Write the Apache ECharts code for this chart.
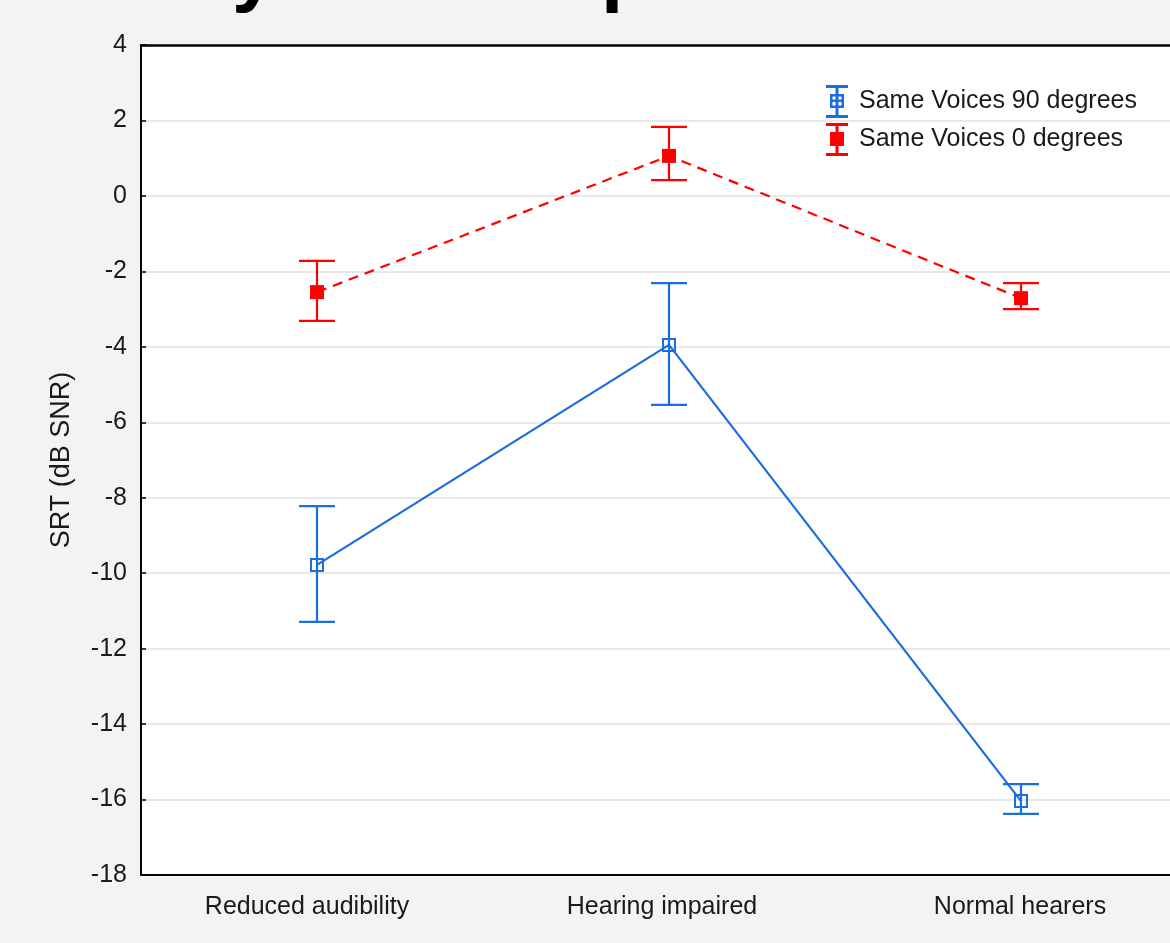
<!DOCTYPE html>
<html>
<head>
<meta charset="utf-8">
<style>
  html, body { margin: 0; padding: 0; background: #f2f3f5; overflow: hidden; }
  #chart { width: 1197px; height: 943px; }
</style>
<script src="https://cdn.jsdelivr.net/npm/echarts@6/dist/echarts.min.js"></script>
</head>
<body>
<div id="chart"></div>
<script>
// ---- data ----
var categories = ['Reduced audibility', 'Hearing impaired', 'Normal hearers'];
var seriesNames = ['Same Voices 90 degrees', 'Same Voices 0 degrees'];
var sv90Mean = [-9.78, -3.95, -16.04];
var sv90Low  = [-11.29, -5.54, -16.38];
var sv90High = [-8.22, -2.31, -15.59];
var sv0Mean  = [-2.55, 1.06, -2.71];
var sv0Low   = [-3.31, 0.42, -3.00];
var sv0High  = [-1.72, 1.83, -2.31];
var yMin = -18, yMax = 4, yStep = 2;

var BLUE = '#1a6ee0';
var RED = '#ff0000';
var FONT = '"Liberation Sans", Arial, sans-serif';

function errData(low, high) {
  return categories.map(function (c, i) { return [i, low[i], high[i]]; });
}
function errRender(color) {
  return function (params, api) {
    var x = api.value(0);
    var lo = api.coord([x, api.value(1)]);
    var hi = api.coord([x, api.value(2)]);
    var half = 18;
    var st = { stroke: color, lineWidth: 2.2 };
    return {
      type: 'group',
      children: [
        { type: 'line', shape: { x1: lo[0], y1: lo[1], x2: hi[0], y2: hi[1] }, style: st },
        { type: 'line', shape: { x1: lo[0] - half, y1: lo[1], x2: lo[0] + half, y2: lo[1] }, style: st },
        { type: 'line', shape: { x1: hi[0] - half, y1: hi[1], x2: hi[0] + half, y2: hi[1] }, style: st }
      ]
    };
  };
}

var ringSquare = 'path://M0,0H14V14H0Z M2,2V12H12V2Z';
var iconBlue = 'path://M0,0H22V3H0Z M9.5,0H12.5V33H9.5Z M0,30H22V33H0Z M4,9H18V23H4Z M6.5,11.5V20.5H15.5V11.5Z M4,14.5H18V17H4Z';
var iconRed = 'path://M0,0H22V3H0Z M9.5,0H12.5V33H9.5Z M0,30H22V33H0Z M4,9H18V23H4Z';

// label styles: small right padding nudges the first labels left as in the original
var labelRich = {
  l0: { fontSize: 25, color: '#1a1a1a', fontFamily: FONT, padding: [0, 20, 0, 0] },
  l1: { fontSize: 25, color: '#1a1a1a', fontFamily: FONT, padding: [0, 14, 0, 0] },
  l2: { fontSize: 25, color: '#1a1a1a', fontFamily: FONT, padding: [0, 2, 0, 0] }
};

var chart = echarts.init(document.getElementById('chart'), null, { renderer: 'canvas' });
chart.setOption({
  backgroundColor: '#f2f3f5',
  animation: false,
  textStyle: { fontFamily: FONT },
  graphic: [
    { type: 'text', left: 232, top: -66, style: { text: 'y', fontSize: 80, fontWeight: 'bold', fontFamily: FONT, fill: '#000' } },
    { type: 'text', left: 601, top: -66, style: { text: 'p', fontSize: 80, fontWeight: 'bold', fontFamily: FONT, fill: '#000' } }
  ],
  grid: {
    left: 141, top: 45, right: 0, height: 830,
    show: true, backgroundColor: '#ffffff', borderWidth: 0,
    containLabel: false
  },
  legend: {
    orient: 'vertical',
    left: 826, top: 85,
    padding: 0,
    itemWidth: 22, itemHeight: 33, itemGap: 5,
    selectedMode: false,
    textStyle: { fontSize: 25, color: '#1a1a1a', fontFamily: FONT, padding: [0, 0, 0, 6] },
    data: [
      { name: seriesNames[0], icon: iconBlue, itemStyle: { color: BLUE } },
      { name: seriesNames[1], icon: iconRed, itemStyle: { color: RED } }
    ]
  },
  xAxis: [
    {
      type: 'category', data: categories, position: 'bottom',
      axisLine: { onZero: false, lineStyle: { color: '#000', width: 2 } },
      axisTick: { inside: true, alignWithLabel: true, length: 5, lineStyle: { color: '#000', width: 1.5 } },
      axisLabel: {
        fontSize: 25, color: '#1a1a1a', margin: 20, fontFamily: FONT,
        formatter: function (v, i) { return '{l' + i + '|' + v + '}'; },
        rich: labelRich
      },
      splitLine: { show: false }
    },
    {
      type: 'category', data: categories, position: 'top',
      axisLine: { onZero: false, lineStyle: { color: '#000', width: 2.5 } },
      axisTick: { inside: true, alignWithLabel: true, length: 5, lineStyle: { color: '#000', width: 1.5 } },
      axisLabel: { show: false },
      splitLine: { show: false }
    }
  ],
  yAxis: {
    type: 'value', min: yMin, max: yMax, interval: yStep,
    name: 'SRT (dB SNR)', nameLocation: 'middle', nameGap: 66,
    nameTextStyle: { fontSize: 27, color: '#1a1a1a', fontFamily: FONT },
    axisLine: { show: true, onZero: false, lineStyle: { color: '#000', width: 2 } },
    axisTick: { show: true, inside: true, length: 5, lineStyle: { color: '#000', width: 1.5 } },
    axisLabel: { fontSize: 25, color: '#1a1a1a', margin: 14, fontFamily: FONT },
    splitLine: { show: true, lineStyle: { color: '#e2e2e2', width: 1.5 } }
  },
  series: [
    {
      name: seriesNames[0], type: 'line', data: sv90Mean,
      symbol: ringSquare, symbolSize: 14, showAllSymbol: true,
      itemStyle: { color: BLUE },
      lineStyle: { color: BLUE, width: 2.2 },
      z: 3
    },
    {
      name: seriesNames[1], type: 'line', data: sv0Mean,
      symbol: 'rect', symbolSize: 14,
      itemStyle: { color: RED },
      lineStyle: { color: RED, width: 2.2, type: [10, 7] },
      z: 3
    },
    {
      name: 'err90', type: 'custom', data: errData(sv90Low, sv90High),
      encode: { x: 0, y: [1, 2] },
      renderItem: errRender(BLUE), z: 2
    },
    {
      name: 'err0', type: 'custom', data: errData(sv0Low, sv0High),
      encode: { x: 0, y: [1, 2] },
      renderItem: errRender(RED), z: 2
    }
  ]
});
</script>
</body>
</html>
